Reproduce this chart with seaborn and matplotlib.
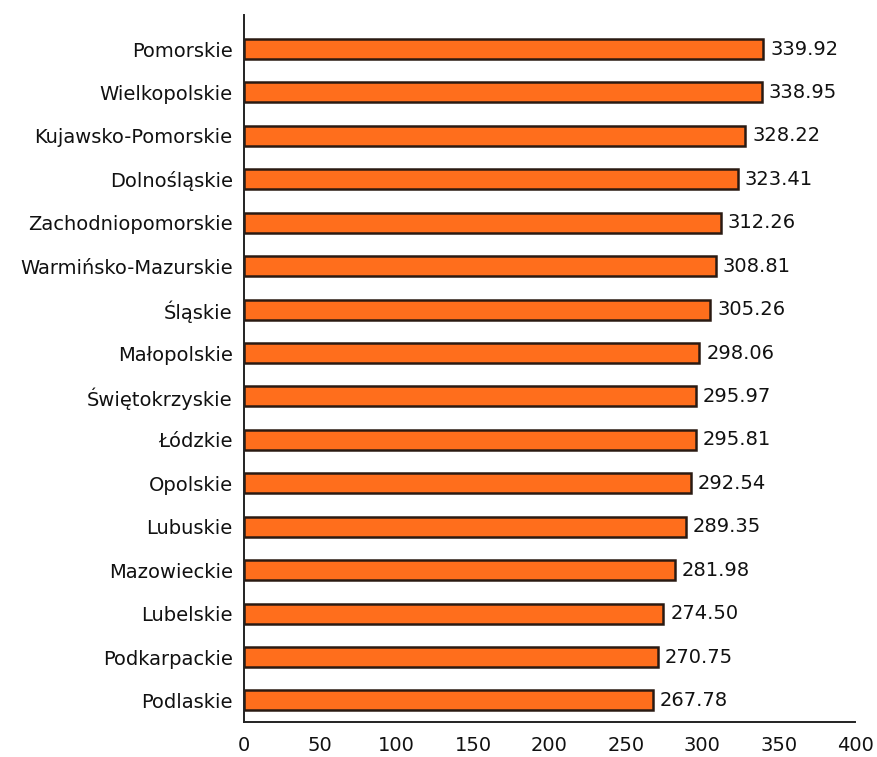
import matplotlib
matplotlib.use("Agg")
import matplotlib.pyplot as plt
import seaborn as sns
import pandas as pd

regions = [
    "Pomorskie", "Wielkopolskie", "Kujawsko-Pomorskie", "Dolnośląskie",
    "Zachodniopomorskie", "Warmińsko-Mazurskie", "Śląskie", "Małopolskie",
    "Świętokrzyskie", "Łódzkie", "Opolskie", "Lubuskie", "Mazowieckie",
    "Lubelskie", "Podkarpackie", "Podlaskie",
]
values = [
    339.92, 338.95, 328.22, 323.41, 312.26, 308.81, 305.26, 298.06,
    295.97, 295.81, 292.54, 289.35, 281.98, 274.50, 270.75, 267.78,
]
x_ticks = [0, 50, 100, 150, 200, 250, 300, 350, 400]

df = pd.DataFrame({"region": regions, "value": values})

sns.set_theme(style="white")
plt.rcParams["font.family"] = ["DejaVu Sans"]

fs = 14
fig = plt.figure(figsize=(8.77, 7.57), dpi=100)
ax = fig.add_axes([0.278, 0.046, 0.697, 0.934])

sns.barplot(data=df, x="value", y="region", orient="h", ax=ax,
            color="#FF6E1C", width=0.46, edgecolor="#2a1a12", linewidth=1.8,
            saturation=1)

for i, v in enumerate(values):
    ax.text(v + 4.5, i, f"{v:.2f}", va="center", ha="left",
            fontsize=fs, color="#111111")

ax.set_xlim(0, 400)
ax.set_ylim(15.5, -0.78)
ax.set_xticks(x_ticks)
ax.set_xticklabels([str(t) for t in x_ticks], fontsize=fs, color="#111111")
ax.tick_params(axis="x", direction="inout", length=10, width=1.3,
               color="#222222", pad=5)
ax.tick_params(axis="y", length=0, pad=8, labelsize=fs, labelcolor="#111111")
ax.set_xlabel("")
ax.set_ylabel("")

for side in ["top", "right"]:
    ax.spines[side].set_visible(False)
for side in ["left", "bottom"]:
    ax.spines[side].set_color("#222222")
    ax.spines[side].set_linewidth(1.4)

fig.savefig("out.png", dpi=100)
